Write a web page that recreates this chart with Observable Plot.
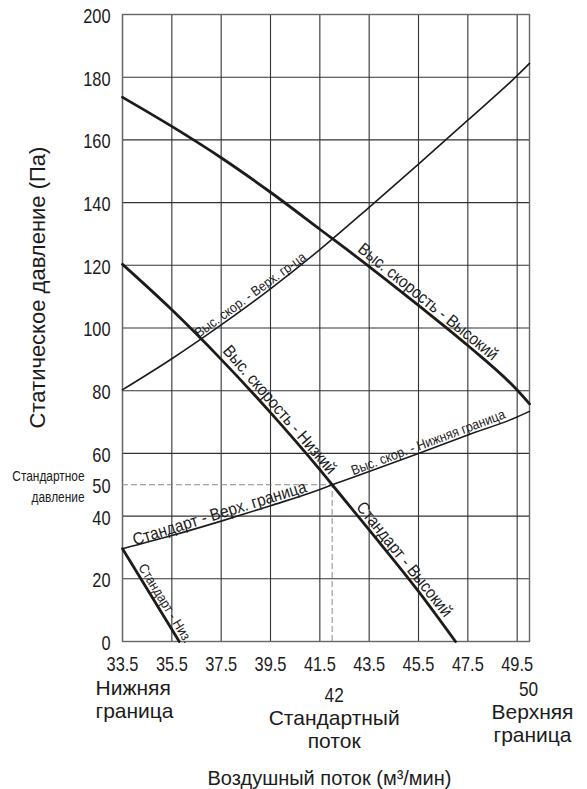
<!DOCTYPE html>
<html><head><meta charset="utf-8">
<script src="https://cdn.jsdelivr.net/npm/d3@7"></script>
<script src="https://cdn.jsdelivr.net/npm/@observablehq/plot@0.6"></script>
<style>body{margin:0;background:#fff}</style>
</head><body><div id="chart"></div>
<script>
// ---------- data ----------
const flowTicks = [33.5, 35.5, 37.5, 39.5, 41.5, 43.5, 45.5, 47.5, 49.5];
const pressureGrid = [0, 20, 40, 60, 80, 100, 120, 140, 160, 180, 200];
const pressureTicks = [0, 20, 40, 50, 60, 80, 100, 120, 140, 160, 180, 200];
const flowDomain = [33.5, 50];
const pressureDomain = [0, 200];
const stdFlow = 42;
const stdPressure = 50;

// "Выс. скорость - Высокий"
const highHighFlow = [33.5, 35.5, 37.5, 39.5, 41.5, 43.5, 45.5, 47.5, 49.5, 50];
const highHighPressure = [173.6, 164.3, 154.3, 143.3, 131.5, 119.6, 107.2, 94.4, 80.2, 75.8];
// "Выс. скор. - Верх. гр-ца"
const highUpperFlow = [33.5, 35.5, 37.5, 39.5, 41.5, 43.5, 45.5, 47.5, 49.5, 50];
const highUpperPressure = [80.3, 90.2, 101, 112.5, 125, 138.5, 152.3, 166.3, 180.5, 184.4];
// "Выс. скорость - Низкий" continuing as "Стандарт - Высокий"
const lowerThickFlow = [33.5, 35.5, 37.5, 39.5, 41.5, 42, 43.5, 45.5, 47];
const lowerThickPressure = [120.3, 105.8, 90.0, 73.0, 54.8, 50, 35.6, 16, 0];
// "Стандарт - Верх. граница" continuing as "Выс. скор. - Нижняя граница"
const lowerThinFlow = [33.5, 35.5, 37.5, 39.5, 41.5, 42, 43.5, 45.5, 47.5, 49.5, 50];
const lowerThinPressure = [29.6, 33.8, 38.4, 43.3, 48.5, 50, 54.2, 60.0, 65.9, 71.6, 73.4];
// "Стандарт - Низ."
const stdLowFlow = [33.5, 35.8];
const stdLowPressure = [29.6, 0];

const labelTexts = ["Выс. скор. - Верх. гр-ца", "Выс. скорость - Высокий", "Выс. скорость - Низкий",
  "Стандарт - Высокий", "Выс. скор. - Нижняя граница", "Стандарт - Верх. граница", "Стандарт - Низ."];
const labelCurves = ["highUpper", "highHigh", "lowerThick", "lowerThick", "lowerThin", "lowerThin", "stdLow"];
const labelFlow = [38.85, 45.66, 39.6, 44.64, 45.99, 37.53, 34.96];

const yTitle = "Статическое давление (Па)";
const xTitle = "Воздушный поток (м³/мин)";
const stdPressureNote = "Стандартное\nдавление";
const lowNote = "Нижняя\nграница";
const stdNote = "Стандартный\nпоток";
const highNote = "Верхняя\nграница";

// ---------- layout ----------
const W = 587, H = 789, ML = 122, MR = 58, MT = 14, MB = 148;
const kx = (W - ML - MR) / (flowDomain[1] - flowDomain[0]);
const ky = (H - MT - MB) / (pressureDomain[1] - pressureDomain[0]);

function hasFont(name) {
  const c = document.createElement("canvas").getContext("2d");
  const s = "mmmmmwwwiillСтандарт0123456789";
  c.font = "40px monospace"; const a = c.measureText(s).width;
  c.font = `40px "${name}", monospace`; const b = c.measureText(s).width;
  return a !== b;
}
const realNarrow = hasFont("Liberation Sans Narrow");
// condensed look: real narrow font if present, otherwise Liberation Sans squeezed horizontally
const condTicks = '"Liberation Sans Narrow", "Liberation Sans"';
const condLabels = '"Arial Narrow", "Liberation Sans"';
const regular = "Liberation Sans, Arial, sans-serif";
const ink = "#1c1c1c";

const curves = {
  highHigh: highHighFlow.map((f, i) => ({flow: f, pressure: highHighPressure[i]})),
  highUpper: highUpperFlow.map((f, i) => ({flow: f, pressure: highUpperPressure[i]})),
  lowerThick: lowerThickFlow.map((f, i) => ({flow: f, pressure: lowerThickPressure[i]})),
  lowerThin: lowerThinFlow.map((f, i) => ({flow: f, pressure: lowerThinPressure[i]})),
  stdLow: stdLowFlow.map((f, i) => ({flow: f, pressure: stdLowPressure[i]}))
};
const thickCurves = ["highHigh", "lowerThick", "stdLow"];

function place(name, x, gap) {
  const pts = curves[name];
  let i = 0;
  while (i < pts.length - 2 && pts[i + 1].flow < x) i++;
  const a = pts[i], b = pts[i + 1];
  const t = (x - a.flow) / (b.flow - a.flow);
  const y = a.pressure + t * (b.pressure - a.pressure);
  const m = (b.pressure - a.pressure) / (b.flow - a.flow);
  const th = -Math.atan2(m * ky, kx);
  return {
    flow: x + gap * Math.sin(th) / kx,
    pressure: y + gap * Math.cos(th) / ky,
    angle: th * 180 / Math.PI
  };
}
const smallSet = new Set([0, 4, 6]);
const labels = labelTexts.map((text, i) => {
  const thick = thickCurves.includes(labelCurves[i]);
  return {text, small: smallSet.has(i), ...place(labelCurves[i], labelFlow[i], thick ? 3.5 : 2.5)};
});

const marks = [
  Plot.ruleY(pressureGrid, {stroke: "#333", strokeWidth: 1.1}),
  Plot.ruleX(flowTicks, {stroke: "#333", strokeWidth: 1.1}),
  Plot.frame({stroke: "#666", strokeWidth: 1.4}),
  Plot.ruleY([stdPressure], {x1: flowDomain[0], x2: stdFlow, stroke: "#8a8a8a", strokeWidth: 1, strokeDasharray: "6,3"}),
  Plot.ruleX([stdFlow], {y1: 0, y2: stdPressure, stroke: "#8a8a8a", strokeWidth: 1, strokeDasharray: "6,3"}),
];
for (const [name, pts] of Object.entries(curves)) {
  const thick = thickCurves.includes(name);
  marks.push(Plot.line(pts, {x: "flow", y: "pressure", curve: pts.length > 2 ? "monotone-x" : "linear",
    stroke: ink, strokeWidth: thick ? 2.8 : 1.6}));
}
marks.push(
  Plot.text(labels.filter(d => !d.small), {x: "flow", y: "pressure", text: "text", rotate: "angle",
    lineAnchor: "bottom", fontSize: 17, fontFamily: condLabels, fill: ink}),
  Plot.text(labels.filter(d => d.small), {x: "flow", y: "pressure", text: "text", rotate: "angle",
    lineAnchor: "bottom", fontSize: 13.7, fontFamily: condLabels, fill: ink}),
  // y tick labels
  Plot.text(pressureTicks, {y: d => d, text: d => String(d), frameAnchor: "left", textAnchor: "end",
    dx: -12, dy: 2, fontSize: 20, fontFamily: condTicks, fill: ink}),
  // x tick labels
  Plot.text(flowTicks, {x: d => d, text: d => d.toFixed(1), frameAnchor: "bottom", textAnchor: "middle",
    lineAnchor: "bottom", dy: 29, fontSize: 20, fontFamily: condTicks, fill: ink}),
  Plot.text([stdPressureNote], {y: stdPressure, text: d => d, frameAnchor: "left", textAnchor: "end",
    dx: -38, lineHeight: 1.48, fontSize: 14.5, fontFamily: condTicks, fill: ink}),
  Plot.text([lowNote], {x: flowDomain[0], text: d => d, frameAnchor: "bottom", textAnchor: "start",
    lineAnchor: "bottom", dx: -27, dy: 76, lineHeight: 1.06, fontSize: 21, fontFamily: regular, fill: ink}),
  Plot.text([stdFlow], {x: d => d, text: d => String(d), frameAnchor: "bottom", textAnchor: "middle",
    lineAnchor: "bottom", dx: 2, dy: 60, fontSize: 21, fontFamily: condTicks, fill: ink}),
  Plot.text([stdNote], {x: stdFlow, text: d => d, frameAnchor: "bottom", textAnchor: "middle",
    lineAnchor: "bottom", dx: 2, dy: 106, lineHeight: 1.05, fontSize: 21, fontFamily: regular, fill: ink}),
  Plot.text([flowDomain[1]], {x: d => d, text: d => String(d), frameAnchor: "bottom", textAnchor: "middle",
    lineAnchor: "bottom", dx: -1, dy: 54, fontSize: 21, fontFamily: condTicks, fill: ink}),
  Plot.text([highNote], {x: flowDomain[1], text: d => d, frameAnchor: "bottom", textAnchor: "middle",
    lineAnchor: "bottom", dx: 3, dy: 100, lineHeight: 1.05, fontSize: 21, fontFamily: regular, fill: ink}),
  Plot.text([xTitle], {text: d => d, frameAnchor: "bottom", textAnchor: "middle", lineAnchor: "bottom",
    dx: 3.5, dy: 143, fontSize: 20, fontFamily: regular, fill: ink}),
  Plot.text([yTitle], {text: d => d, frameAnchor: "left", textAnchor: "middle", rotate: -90,
    dx: -85, dy: -40.5, fontSize: 22, fontFamily: regular, fill: ink})
);

const chart = Plot.plot({
  width: W, height: H,
  marginLeft: ML, marginRight: MR, marginTop: MT, marginBottom: MB,
  x: {domain: flowDomain, axis: null},
  y: {domain: pressureDomain, axis: null},
  style: {background: "white", fontFamily: regular, overflow: "visible"},
  marks
});
document.getElementById("chart").appendChild(chart);

// emulate condensed type when no narrow face is installed
if (!realNarrow) {
  d3.select(chart).selectAll("g").each(function () {
    const ff = this.getAttribute("font-family") || "";
    if (!ff.includes("Narrow")) return;
    const s = ff.startsWith('"Arial') ? 0.9 : 0.82;
    d3.select(this).selectAll("text").attr("transform", function () {
      return (this.getAttribute("transform") || "") + ` scale(${s},1)`;
    });
  });
}
</script>
</body></html>
